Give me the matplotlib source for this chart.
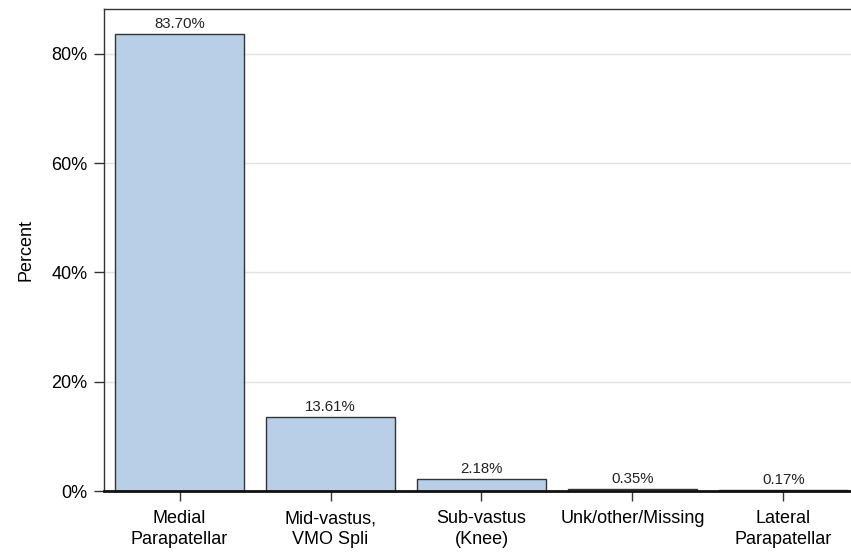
import matplotlib.pyplot as plt
import numpy as np

plt.rcParams['font.family'] = ['Liberation Sans', 'DejaVu Sans']

categories = ['Medial\nParapatellar', 'Mid-vastus,\nVMO Spli', 'Sub-vastus\n(Knee)',
              'Unk/other/Missing', 'Lateral\nParapatellar']
percent = [83.70, 13.61, 2.18, 0.35, 0.17]
yticks = [0, 20, 40, 60, 80]

fig = plt.figure(figsize=(8.51, 5.52), dpi=100)
ax = fig.add_axes([104 / 851, 1 - 491 / 552, 755 / 851, 482 / 552])

x = np.arange(len(categories))
bars = ax.bar(x, percent, width=0.85, color='#B9CFE7', edgecolor='#333333',
              linewidth=1.0, zorder=3)
for xi, v in zip(x, percent):
    ax.text(xi, v + 0.5, f'{v:.2f}%', ha='center', va='bottom', fontsize=10.8,
            color='#222222', zorder=4)

ax.set_xlim(-0.5, 4.5)
ax.set_ylim(0, 88.2)
ax.set_yticks(yticks)
ax.set_yticklabels([f'{t}%' for t in yticks], fontsize=13)
ax.set_xticks(x)
ax.set_xticklabels(categories, fontsize=13, linespacing=1.25)
ax.set_ylabel('Percent', fontsize=13, labelpad=12)

ax.yaxis.grid(True, color='#E3E3E3', linewidth=1.0, zorder=0)
ax.tick_params(axis='both', direction='out', length=7, width=1, color='#333333',
               pad=5)
ax.tick_params(axis='x', pad=7)
for s in ['top', 'left']:
    ax.spines[s].set_color('#333333')
    ax.spines[s].set_linewidth(1.0)
ax.spines['bottom'].set_color('#111111')
ax.spines['bottom'].set_linewidth(2.0)
ax.spines['bottom'].set_zorder(5)
ax.spines['right'].set_visible(False)

fig.savefig('out.png', dpi=100)
